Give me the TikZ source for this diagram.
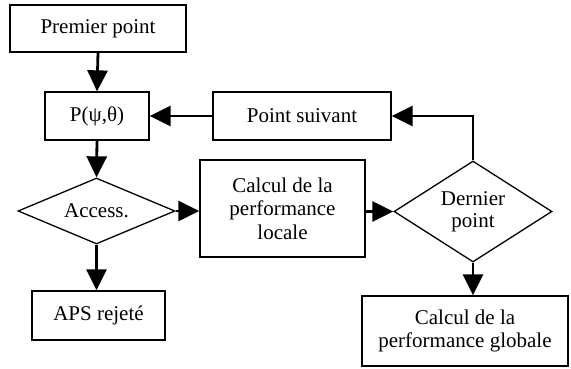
\documentclass[tikz,border=0pt]{standalone}
\usepackage{fontspec}
\setmainfont{Liberation Serif}
\usepackage{tikz}
\usetikzlibrary{arrows.meta,positioning,shapes.geometric,calc}
\tikzset{
  fbox/.style={draw, line width=1.3pt, align=center, fill=white, inner sep=2pt,
               font=\fontsize{21}{23.5}\selectfont},
  fdec/.style={draw, line width=1.3pt, diamond, align=center, inner sep=0pt,
               font=\fontsize{21}{22}\selectfont},
  flow/.style={line width=2.8pt, -{Triangle[length=21pt,width=20pt]}},
}

\begin{document}
\begin{tikzpicture}[x=1pt, y=-1pt]
    \useasboundingbox (0,0) rectangle (571,369);
    \node[fbox, minimum width=176pt, minimum height=47pt] (premier) at (98,28.5) {Premier point};
    \node[fbox, minimum width=104pt, minimum height=48pt] (ppos)    at (97,116)   {P(ψ,θ)};
    \node[fbox, minimum width=178pt, minimum height=48pt] (suivant) at (302,116)  {Point suivant};
    \node[fdec, minimum width=157pt, minimum height=66pt, aspect=2.38] (access) at (96.5,211) {Access.};
    \node[fbox, minimum width=165pt, minimum height=97pt] (locale)  at (282.5,208.5) {Calcul de la\\performance\\locale};
    \node[fdec, minimum width=158pt, minimum height=101pt, aspect=1.56] (dernier) at (473,211.5) {Dernier\\point};
    \node[fbox, minimum width=133pt, minimum height=49pt] (rejete)  at (98.5,315.5) {APS rejeté};
    \node[fbox, minimum width=206pt, minimum height=70pt] (globale) at (465,331)   {Calcul de la\\performance globale};
    \draw[flow] (premier.south) -- (ppos.north);
    \draw[flow] (ppos.south) -- (access.north);
    \draw[flow] (suivant.west) -- (ppos.east);
    \draw[flow] (access.east) -- (access.east -| locale.west);
    \draw[flow] (dernier.west -| locale.east) -- (dernier.west);
    \draw[flow] (dernier.north) |- (suivant.east);
    \draw[flow] (access.south) -- (access.south |- rejete.north);
    \draw[flow] (dernier.south) -- (dernier.south |- globale.north);
  \end{tikzpicture}
\end{document}
